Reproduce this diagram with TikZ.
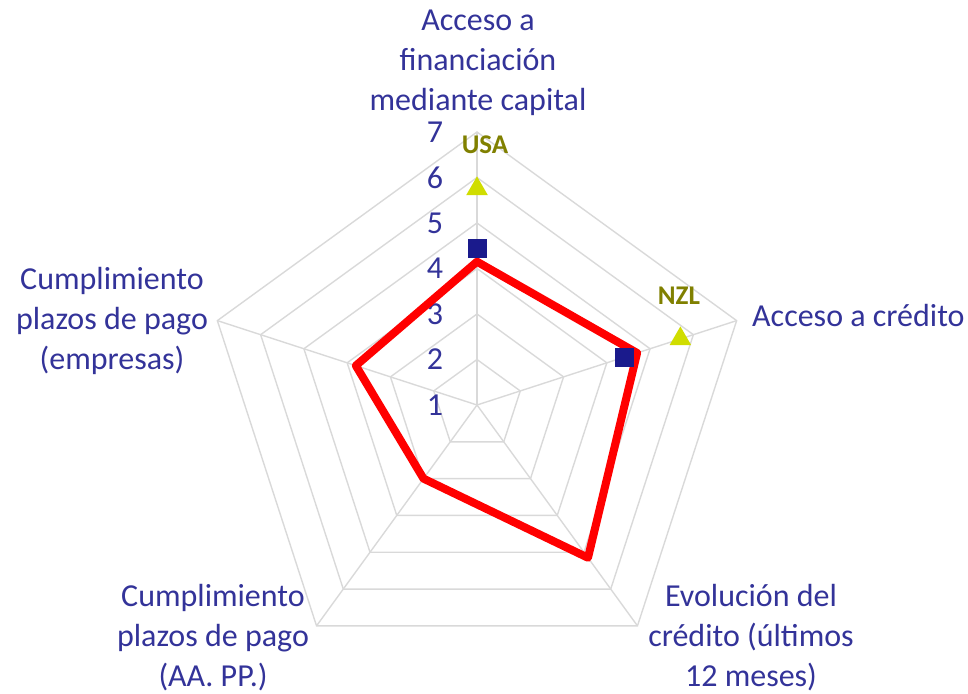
\documentclass[tikz,border=0pt]{standalone}
\usepackage{fontspec}
\setmainfont{Carlito}
\usepackage{tikz}
\usetikzlibrary{positioning, shapes.geometric}
\definecolor{txtblue}{RGB}{51,51,153}
\definecolor{gridgray}{RGB}{217,217,217}
\definecolor{markblue}{RGB}{26,26,140}
\definecolor{markyellow}{RGB}{208,221,0}
\definecolor{ctryolive}{RGB}{128,128,0}
\begin{document}
\begin{tikzpicture}[
    x=1pt, y=1pt,
    ring/.style={draw=gridgray, line width=1.4pt},
    lbl/.style={text=txtblue, align=center, inner sep=0pt, font=\fontsize{32}{40}\selectfont},
    num/.style={text=txtblue, inner sep=0pt, font=\fontsize{32}{40}\selectfont},
    serie/.style={draw=red, line width=8pt, line join=round},
    sq/.style={rectangle, fill=markblue, minimum size=19pt, inner sep=0pt},
    tri/.style={regular polygon, regular polygon sides=3, fill=markyellow, minimum size=25pt, inner sep=0pt},
    ctry/.style={text=ctryolive, inner sep=0pt, font=\bfseries\fontsize{27}{30}\selectfont},
  ]
  \useasboundingbox (0,0) rectangle (968,693);
  \begin{scope}[shift={(477,288)}]
    \def\u{45.5}
    \coordinate (o) at (0,0);
    \foreach \a [count=\i] in {90,18,-54,-126,162}{\coordinate (ax\i) at (\a:{6*\u});}
    % rejilla
    \foreach \r in {1,...,6}{
      \draw[ring] (90:{\r*\u}) -- (18:{\r*\u}) -- (-54:{\r*\u}) -- (-126:{\r*\u}) -- (162:{\r*\u}) -- cycle;}
    \foreach \i in {1,...,5}{\draw[ring] (o) -- (ax\i);}
    \foreach \k in {1,...,7}{\node[num] (n\k) at (-42,{(\k-1)*\u}) {\k};}
    % puntuaciones
    \foreach \a/\v [count=\i] in {90/4.15,18/4.7,-54/5.15,-126/3.0,162/3.8}{\coordinate (d\i) at (\a:{(\v-1)*\u});}
    \draw[serie] (d1) -- (d2) -- (d3) -- (d4) -- (d5) -- cycle;
    \node[sq] (sq1) at (90:{3.45*\u}) {};
    \node[sq] (sq2) at (18:{3.41*\u}) {};
    \node[tri] (usa) at (90:{4.75*\u}) {};
    \node[tri] (nzl) at (18:{4.7*\u}) {};
    \node[ctry] (usaname) at (8,260) {USA};
    \node[ctry] (nzlname) at (202,109) {NZL};
    % ejes
    \node[lbl] (cap1) at (1,342) {Acceso a\\financiación\\mediante capital};
    \node[lbl, anchor=west] (cap2) at (275,89) {Acceso a crédito};
    \node[lbl] (cap3) at (274,-233) {Evolución del\\crédito (últimos\\12 meses)};
    \node[lbl] (cap4) at (-264,-233) {Cumplimiento\\plazos de pago\\(AA. PP.)};
    \node[lbl] (cap5) at (-365,84) {Cumplimiento\\plazos de pago\\(empresas)};
  \end{scope}
\end{tikzpicture}
\end{document}
